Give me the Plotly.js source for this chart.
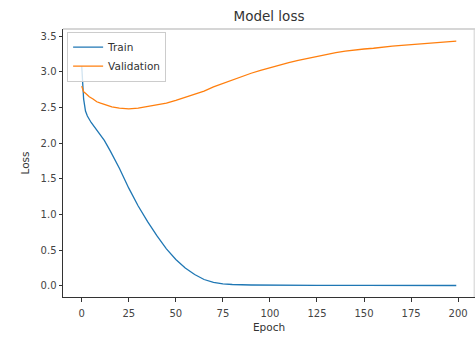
<!DOCTYPE html>
<html>
<head>
<meta charset="utf-8">
<script src="https://cdn.plot.ly/plotly-3.0.1.min.js"></script>
<style>html,body{margin:0;padding:0;background:#fff;}#chart{width:476px;height:337px;}</style>
</head>
<body>
<div id="chart"></div>
<script>
const trainEpochs = [0,1,2,3,5,8,10,12,15,20,25,30,35,40,45,50,55,60,65,70,75,80,90,100,125,150,175,199];
const trainLoss   = [3.08,2.62,2.45,2.38,2.29,2.19,2.12,2.04,1.90,1.65,1.37,1.12,0.90,0.70,0.52,0.37,0.25,0.16,0.09,0.05,0.03,0.02,0.013,0.010,0.008,0.007,0.006,0.006];
const valEpochs = [0,1,2,4,6,8,10,13,16,20,25,30,35,40,45,50,55,60,65,70,75,80,85,90,95,100,105,110,115,120,125,130,135,140,145,150,155,160,165,170,175,180,185,190,195,199];
const valLoss   = [2.80,2.72,2.70,2.65,2.62,2.58,2.56,2.53,2.51,2.49,2.48,2.49,2.51,2.53,2.56,2.60,2.64,2.68,2.73,2.79,2.84,2.89,2.94,2.98,3.02,3.06,3.09,3.13,3.16,3.19,3.22,3.25,3.27,3.29,3.31,3.32,3.33,3.35,3.36,3.37,3.38,3.39,3.40,3.41,3.42,3.43];
const seriesNames = ['Train','Validation'];
const xTicks = [0,25,50,75,100,125,150,175,200];
const yTicks = [0.0,0.5,1.0,1.5,2.0,2.5,3.0,3.5];
const yTickText = yTicks.map(v => v.toFixed(1));

const font = 'DejaVu Sans, sans-serif';
const traces = [
  {x: trainEpochs, y: trainLoss, name: seriesNames[0], mode: 'lines', line: {color: '#1f77b4', width: 1.3}},
  {x: valEpochs, y: valLoss, name: seriesNames[1], mode: 'lines', line: {color: '#ff7f0e', width: 1.3}}
];
const layout = {
  width: 476, height: 337,
  margin: {l: 63, r: 1, t: 29, b: 40, pad: 0},
  paper_bgcolor: '#fff', plot_bgcolor: '#fff',
  font: {family: font, size: 10, color: '#333'},
  title: {text: 'Model loss', font: {family: font, size: 13.5, color: '#333'}, x: 0.5, xref: 'paper', xanchor: 'center', y: 0.952, yref: 'container', yanchor: 'middle'},
  showlegend: true,
  legend: {x: 0.01, y: 0.99, xanchor: 'left', yanchor: 'top', bgcolor: 'rgba(255,255,255,0.8)', bordercolor: '#ccc', borderwidth: 1, font: {family: font, size: 10.5, color: '#333'}, tracegroupgap: 0, itemwidth: 30},
  xaxis: {
    range: [-9.95, 208.95], tickmode: 'array', tickvals: xTicks, ticktext: xTicks.map(String),
    ticks: 'outside', ticklen: 3.5, tickwidth: 1, tickcolor: '#333', ticklabelstandoff: 3,
    showgrid: false, zeroline: false, showline: true, linecolor: '#333', linewidth: 1,
    tickfont: {family: font, size: 10, color: '#444'},
    title: {text: 'Epoch', font: {family: font, size: 10.5, color: '#333'}, standoff: 6}
  },
  yaxis: {
    range: [-0.155, 3.6], tickmode: 'array', tickvals: yTicks, ticktext: yTickText,
    ticks: 'outside', ticklen: 3.5, tickwidth: 1, tickcolor: '#333',
    showgrid: false, zeroline: false, showline: true, linecolor: '#333', linewidth: 1,
    tickfont: {family: font, size: 10, color: '#444'},
    title: {text: 'Loss', font: {family: font, size: 10.5, color: '#333'}, standoff: 8}
  },
  shapes: [
    {type: 'line', xref: 'paper', yref: 'paper', x0: 0, x1: 1, y0: 1, y1: 1, line: {color: '#c8c8c8', width: 1.5}, layer: 'above'},
    {type: 'line', xref: 'paper', yref: 'paper', x0: 0.998, x1: 0.998, y0: 0, y1: 1, line: {color: '#d0d0d0', width: 1}, layer: 'above'}
  ]
};
Plotly.newPlot('chart', traces, layout, {displayModeBar: false, staticPlot: true});
</script>
</body>
</html>
